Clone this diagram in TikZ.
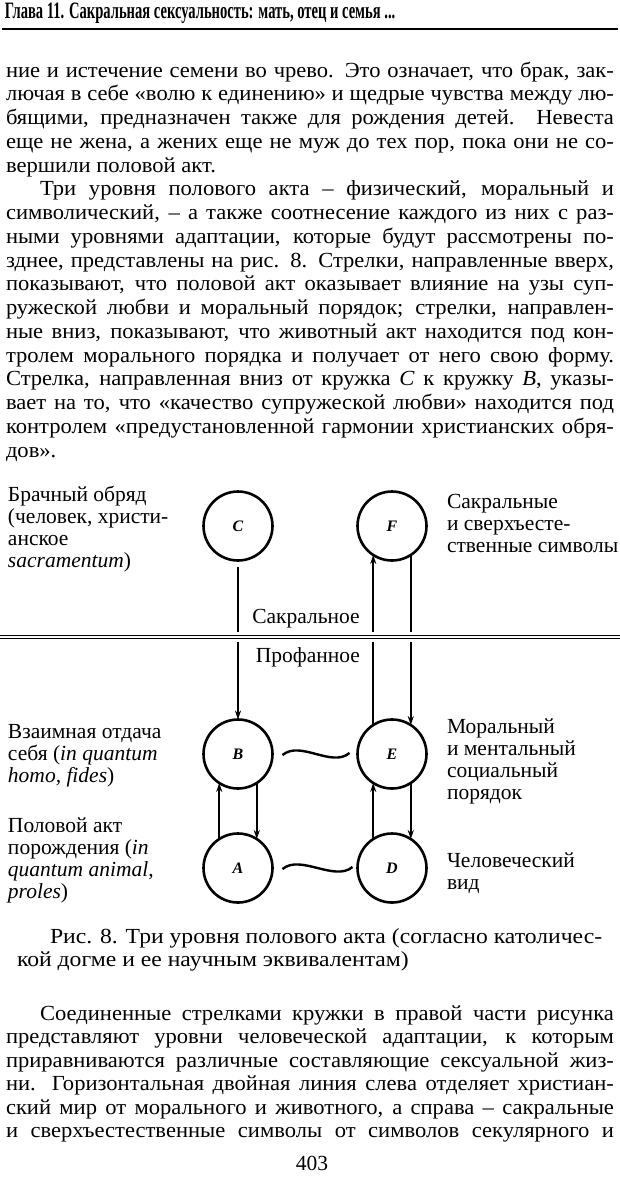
\documentclass[tikz,border=0pt]{standalone}
\usepackage{fontspec}
\setmainfont{Liberation Serif}
\usetikzlibrary{arrows.meta,positioning}
\newlength\jwd
\setlength\jwd{579pt}
\newlength\iwd
\setlength\iwd{546.6pt}
% body lines: widened a little, justified
\newcommand\jline[1]{\scalebox{1.05}[1]{\makebox[\jwd][s]{#1}}}
\newcommand\iline[1]{\scalebox{1.05}[1]{\makebox[\iwd][s]{#1}}}
\newcommand\tline[1]{\scalebox{1.05}[1]{#1}}

\begin{document}
\begin{tikzpicture}[
		x=1pt, y=-1pt,
		every node/.style={inner sep=0pt, outer sep=0pt, anchor=base west, font=\fontsize{21.5}{23}\selectfont},
		stage/.style={circle, draw, line width=2.6pt, minimum size=69pt, anchor=center, font=\fontsize{16}{16}\selectfont\bfseries\itshape},
		link/.style={line width=1.8pt, -{Stealth[length=9pt, width=6pt]}},
		wave/.style={line width=2.4pt}
	]
  \useasboundingbox (0,0) rectangle (620,1191);
  % header
  \node (head) at (5,19) {\scalebox{0.62}[1]{\fontsize{23.5}{24}\selectfont\bfseries Глава 11. Сакральная сексуальность: мать, отец и семья ...}};
  \coordinate (ruleL) at (2,29);
  \coordinate (ruleR) at (618,29);
  \draw[line width=2pt] (ruleL) -- (ruleR);
  % text before the figure
  \node (t1) at (6,77) {\jline{ние и истечение семени во чрево. Это означает, что брак, зак-}};
  \node (t2) at (6,100.75) {\jline{лючая в себе «волю к единению» и щедрые чувства между лю-}};
  \node (t3) at (6,124.5) {\jline{бящими, предназначен также для рождения детей. Невеста}};
  \node (t4) at (6,148.25) {\jline{еще не жена, а жених еще не муж до тех пор, пока они не со-}};
  \node (t5) at (6,172) {\tline{вершили половой акт.}};
  \node (t6) at (40,195.75) {\iline{Три уровня полового акта – физический, моральный и}};
  \node (t7) at (6,219.5) {\jline{символический, – а также соотнесение каждого из них с раз-}};
  \node (t8) at (6,243.25) {\jline{ными уровнями адаптации, которые будут рассмотрены по-}};
  \node (t9) at (6,267) {\jline{зднее, представлены на рис. 8. Стрелки, направленные вверх,}};
  \node (t10) at (6,290.75) {\jline{показывают, что половой акт оказывает влияние на узы суп-}};
  \node (t11) at (6,314.5) {\jline{ружеской любви и моральный порядок; стрелки, направлен-}};
  \node (t12) at (6,338.25) {\jline{ные вниз, показывают, что животный акт находится под кон-}};
  \node (t13) at (6,362) {\jline{тролем морального порядка и получает от него свою форму.}};
  \node (t14) at (6,385.75) {\jline{Стрелка, направленная вниз от кружка \textit{C} к кружку \textit{B}, указы-}};
  \node (t15) at (6,409.5) {\jline{вает на то, что «качество супружеской любви» находится под}};
  \node (t16) at (6,433.25) {\jline{контролем «предустановленной гармонии христианских обря-}};
  \node (t17) at (6,457) {\tline{дов».}};
  % circles
  \node[stage] (C) at (238,526) {C};
  \node[stage] (F) at (392,526) {F};
  \node[stage] (B) at (238,754) {B};
  \node[stage] (E) at (392,754) {E};
  \node[stage] (A) at (238,868) {A};
  \node[stage] (D) at (392,868) {D};
  % arrows
  \draw[link, shorten <=6pt] (C.south) -- (B.north);
  \draw[link] (E.123) -- (F.237);
  \draw[link] (F.303) -- (E.57);
  \draw[link] (A.123) -- (B.237);
  \draw[link] (B.303) -- (A.57);
  \draw[link] (D.123) -- (E.237);
  \draw[link] (E.303) -- (D.57);
  % waves
  \draw[wave] ([shift={(10,1)}]B.east) .. controls +(18,-15) and +(-18,15) .. ([shift={(-8,-1)}]E.west);
  \draw[wave] ([shift={(10,1)}]A.east) .. controls +(18,-15) and +(-18,15) .. ([shift={(-5,-1)}]D.west);
  % sacred / profane border
  \coordinate (divL) at (0,637);
  \coordinate (divR) at (620,637);
  \draw[white, line width=10pt] (divL) -- (divR);
  \draw[line width=1.2pt, double distance=1.4pt] (divL) -- (divR);
  \node[anchor=base] (sacred) at (306,623) {Сакральное};
  \node[anchor=base] (profane) at (308,662) {Профанное};
  % labels on the left
  \node (lc1) at (8,501) {Брачный обряд};
  \node (lc2) at (8,523) {(человек, христи-};
  \node (lc3) at (8,545) {анское};
  \node (lc4) at (8,567) {\textit{sacramentum})};
  \node (lb1) at (8,738) {Взаимная отдача};
  \node (lb2) at (8,760) {себя (\textit{in quantum}};
  \node (lb3) at (8,782) {\textit{homo, fides})};
  \node (la1) at (8,832) {Половой акт};
  \node (la2) at (8,854) {порождения (\textit{in}};
  \node (la3) at (8,876) {\textit{quantum animal},};
  \node (la4) at (8,898) {\textit{proles})};
  % labels on the right
  \node (rf1) at (447,508) {Сакральные};
  \node (rf2) at (447,530) {и сверхъесте-};
  \node (rf3) at (447,552) {ственные символы};
  \node (re1) at (447,733) {Моральный};
  \node (re2) at (447,755) {и ментальный};
  \node (re3) at (447,777) {социальный};
  \node (re4) at (447,799) {порядок};
  \node (rd1) at (447,867) {Человеческий};
  \node (rd2) at (447,889) {вид};
  % caption
  \node (cap1) at (50,943) {\scalebox{1.1}[1]{Рис. 8. Три уровня полового акта (согласно католичес-}};
  \node (cap2) at (17,966) {\scalebox{1.1}[1]{кой догме и ее научным эквивалентам)}};
  % text after the figure
  \node (u1) at (40,1020) {\iline{Соединенные стрелками кружки в правой части рисунка}};
  \node (u2) at (6,1043.5) {\jline{представляют уровни человеческой адаптации, к которым}};
  \node (u3) at (6,1067) {\jline{приравниваются различные составляющие сексуальной жиз-}};
  \node (u4) at (6,1090.5) {\jline{ни. Горизонтальная двойная линия слева отделяет христиан-}};
  \node (u5) at (6,1114) {\jline{ский мир от морального и животного, а справа – сакральные}};
  \node (u6) at (6,1137.5) {\jline{и сверхъестественные символы от символов секулярного и}};
  \node[anchor=base] (page) at (312,1170) {403};
\end{tikzpicture}
\end{document}
